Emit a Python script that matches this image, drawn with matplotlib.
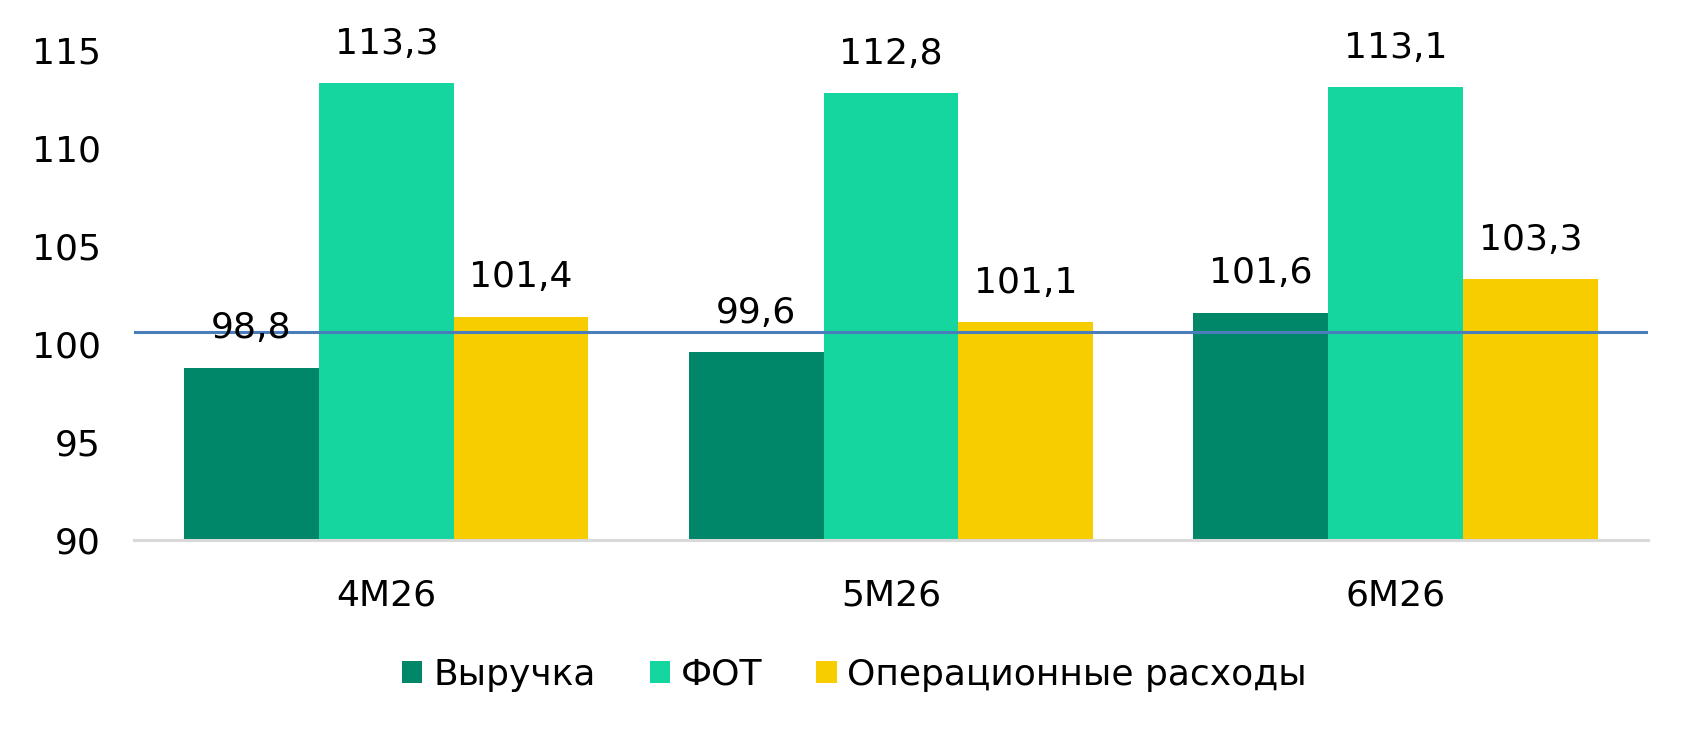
import matplotlib
matplotlib.use("Agg")
import matplotlib.pyplot as plt
import numpy as np

categories = ["4M26", "5M26", "6M26"]
series_names = ["Выручка", "ФОТ", "Операционные расходы"]
revenue = [98.8, 99.6, 101.6]
payroll = [113.3, 112.8, 113.1]
opex = [101.4, 101.1, 103.3]
ref_line = 100.6
yticks = [90, 95, 100, 105, 110, 115]

colors = ["#00876A", "#16D6A0", "#F7CD00"]

plt.rcParams['font.family'] = ['DejaVu Sans']
fig = plt.figure(figsize=(16.89, 7.39), dpi=100)
ax = fig.add_axes([0.0793, 0.2693, 0.8964, 0.663])

x = np.arange(len(categories))
w = 0.267
fs = 26
for i, (vals, name, c) in enumerate(zip([revenue, payroll, opex], series_names, colors)):
    pos = x + (i - 1) * w
    ax.bar(pos, [v - 90 for v in vals], bottom=90, width=w, color=c, label=name, zorder=2)
    for p, v in zip(pos, vals):
        ax.annotate(f"{v:.1f}".replace(".", ","), (p, v), xytext=(0, 16),
                    textcoords="offset points", ha="center", va="bottom",
                    fontsize=fs, annotation_clip=False, zorder=4)

ax.axhline(ref_line, color="#4A7EBB", lw=2.2, zorder=3)

ax.set_xlim(-0.5, 2.5)
ax.set_ylim(90, 115)
ax.set_yticks(yticks)
ax.set_yticklabels([str(t) for t in yticks], fontsize=fs)
ax.set_xticks(x)
ax.set_xticklabels(categories, fontsize=fs)
ax.tick_params(axis='y', length=0, pad=24)
ax.tick_params(axis='x', length=0, pad=28)
for s in ["top", "right", "left"]:
    ax.spines[s].set_visible(False)
ax.spines["bottom"].set_color("#D9D9D9")
ax.spines["bottom"].set_linewidth(2.2)

fig.legend(loc="center", bbox_to_anchor=(0.506, 0.087), ncol=3, frameon=False,
           fontsize=fs, handlelength=0.56, handleheight=0.56, handletextpad=0.3,
           columnspacing=1.5)

fig.savefig("out.png", dpi=100)
